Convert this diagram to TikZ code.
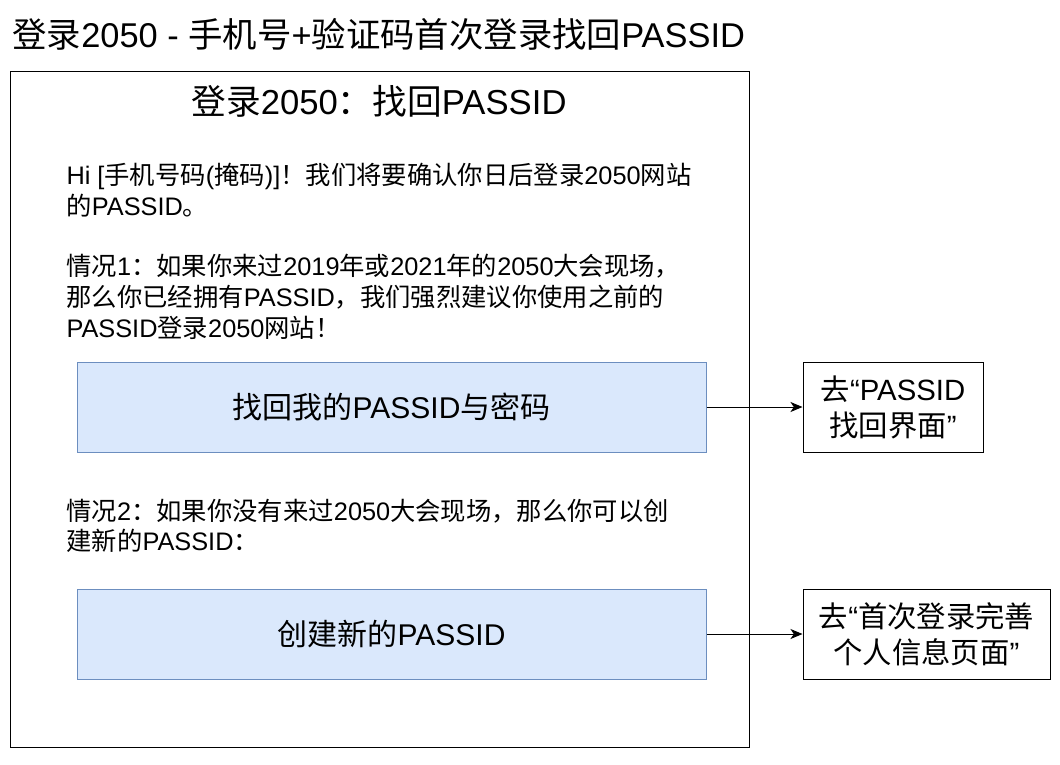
\documentclass[tikz,border=0pt]{standalone}
\usepackage{fontspec}
\setmainfont{Liberation Sans}
\newfontfamily\cjk{Noto Sans CJK SC}
\newfontfamily\latin{Liberation Sans}
\usepackage{xcolor}
\usetikzlibrary{positioning,calc,arrows.meta}

% Chinese characters are set in the CJK font, the rest in Liberation Sans
\XeTeXinterchartokenstate=1
\newXeTeXintercharclass\cjkchars
\newcount\cjkcount
\newcommand\cjkrange[2]{\cjkcount=#1\relax
  \loop\XeTeXcharclass\cjkcount=\cjkchars
  \advance\cjkcount by 1\relax
  \ifnum\cjkcount<#2\relax\repeat}
\cjkrange{"3000}{"3040}
\cjkrange{"4E00}{"A000}
\cjkrange{"FF00}{"FFF0}
\XeTeXinterchartoks 0 \cjkchars = {\cjk}
\XeTeXinterchartoks 4095 \cjkchars = {\cjk}
\XeTeXinterchartoks \cjkchars 0 = {\latin}
\XeTeXinterchartoks \cjkchars 4095 = {\latin}

\definecolor{btnfill}{HTML}{DAE8FC}
\definecolor{btnline}{HTML}{6C8EBF}

\begin{document}
\begin{tikzpicture}[x=0.75pt,y=-0.75pt,line width=0.75pt,
    btn/.style={draw=btnline,fill=btnfill,minimum width=471.75pt,minimum height=67.5pt,font=\fontsize{22.5}{27}\selectfont},
    target/.style={draw,minimum height=67.5pt,align=center,font=\fontsize{22}{27}\selectfont},
    para/.style={anchor=west,align=left,inner sep=0pt,font=\fontsize{19}{23}\selectfont},
    >={Stealth[length=9pt,width=7.5pt,inset=2.5pt]}]
    \useasboundingbox (0,0) rectangle (1060,764);

    % Title
    \node[anchor=west,inner sep=0pt,font=\fontsize{25.8}{30}\selectfont] (title) at (12,34) {登录2050 - 手机号+验证码首次登录找回PASSID};

    % Page frame
    \draw (379.5,409) node[draw,minimum width=554.25pt,minimum height=507pt] (panel) {};
    \node[font=\fontsize{26}{30}\selectfont] (heading) at (379,101) {登录2050：找回PASSID};

    % Message text
    \node[para] (intro) at (66,190) {Hi [手机号码(掩码)]！我们将要确认你日后登录2050网站\\的PASSID。};
    \node[para] (caseone) at (66,297) {情况1：如果你来过2019年或2021年的2050大会现场，\\那么你已经拥有PASSID，我们强烈建议你使用之前的\\PASSID登录2050网站！};
    \node[para] (casetwo) at (66,526) {情况2：如果你没有来过2050大会现场，那么你可以创\\建新的PASSID：};

    % Buttons
    \node[btn] (recover) at (391.5,407) {找回我的PASSID与密码};
    \node[btn] (create) at (391.5,634) {创建新的PASSID};

    % Where the buttons lead
    \node[target,minimum width=135pt] (gorecover) at (893,407) {去“PASSID\\找回界面”};
    \node[target,minimum width=185.25pt] (gofirst) at (926.5,634) {去“首次登录完善\\个人信息页面”};

    \draw[->] (recover) -- (gorecover);
    \draw[->] (create) -- (gofirst);
\end{tikzpicture}
\end{document}
